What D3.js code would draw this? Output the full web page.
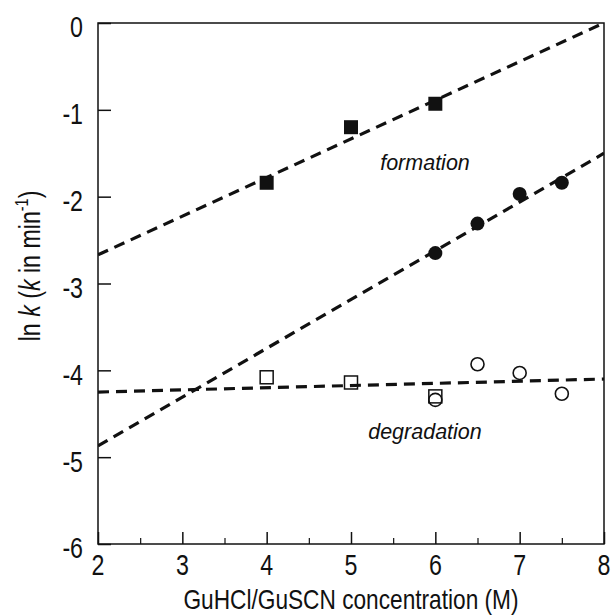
<!DOCTYPE html>
<html><head><meta charset="utf-8">
<script src="https://cdn.jsdelivr.net/npm/d3@7"></script>
<style>body{margin:0;background:#fff}svg text{font-family:"Liberation Sans",Arial,sans-serif;fill:#111}</style>
</head><body><svg id="c" width="613" height="615"></svg>
<script>
const xTicks=[2,3,4,5,6,7,8];
const xMinor=[2.5,3.5,4.5,5.5,6.5,7.5];
const yTicks=[0,-1,-2,-3,-4,-5,-6];
const formSqX=[4,5,6], formSqY=[-1.84,-1.20,-0.93];
const formCiX=[6,6.5,7,7.5], formCiY=[-2.65,-2.31,-1.97,-1.84];
const degSqX=[4,5,6], degSqY=[-4.08,-4.14,-4.30];
const degCiX=[6,6.5,7,7.5], degCiY=[-4.34,-3.93,-4.03,-4.27];
const fit1=[[2,-2.67],[8,0]];
const fit2=[[2,-4.87],[8,-1.50]];
const fit3=[[2,-4.25],[8,-4.10]];

const svg=d3.select("#c");
const L=98,R=604,T=23,B=544;
const x=d3.scaleLinear().domain([2,8]).range([L,R]);
const y=d3.scaleLinear().domain([-6,0]).range([B,T]);
const ink="#111";
const FS=29, SX=0.8;

svg.append("defs").append("clipPath").attr("id","clip").append("rect")
 .attr("x",L).attr("y",T).attr("width",R-L).attr("height",B-T);

// frame
svg.append("rect").attr("x",L).attr("y",T).attr("width",R-L).attr("height",B-T)
 .attr("fill","none").attr("stroke",ink).attr("stroke-width",1.5);

// y axis
const ya=svg.append("g").attr("transform",`translate(${L},0)`)
 .call(d3.axisRight(y).tickValues(yTicks).tickSize(13).tickFormat(""));
ya.select(".domain").remove();
ya.selectAll("line").attr("stroke",ink).attr("stroke-width",1.5);
svg.selectAll(".ylab").data(yTicks).enter().append("text")
 .attr("transform",d=>`translate(83,${y(d)+4}) scale(${SX},1)`)
 .attr("dy","0.36em").attr("text-anchor","end")
 .attr("font-size",FS).text(d=>d);

// x axis
const xa=svg.append("g").attr("transform",`translate(0,${B})`)
 .call(d3.axisTop(x).tickValues(xTicks).tickSize(12).tickFormat(""));
xa.select(".domain").remove();
xa.selectAll("line").attr("stroke",ink).attr("stroke-width",1.5);
const xm=svg.append("g").attr("transform",`translate(0,${B})`)
 .call(d3.axisTop(x).tickValues(xMinor).tickSize(6).tickFormat(""));
xm.select(".domain").remove();
xm.selectAll("line").attr("stroke",ink).attr("stroke-width",1.2);
svg.selectAll(".xlab").data(xTicks).enter().append("text")
 .attr("transform",d=>`translate(${x(d)},575) scale(${SX},1)`).attr("text-anchor","middle")
 .attr("font-size",FS).text(d=>d);

// titles
svg.append("text").attr("transform",`translate(${(L+R)/2},609) scale(0.81,1)`).attr("text-anchor","middle")
 .attr("font-size",FS-1).text("GuHCl/GuSCN concentration (M)");
const yt=svg.append("text").attr("transform",`translate(40,266) rotate(-90) scale(${SX},1)`)
 .attr("text-anchor","middle").attr("font-size",FS);
yt.append("tspan").text("ln ");
yt.append("tspan").attr("font-style","italic").text("k");
yt.append("tspan").text(" (");
yt.append("tspan").attr("font-style","italic").text("k");
yt.append("tspan").text(" in min");
yt.append("tspan").attr("font-size",18).attr("dy",-12).text("-1");
yt.append("tspan").attr("dy",12).text(")");

// fit lines
const line=d3.line().x(d=>x(d[0])).y(d=>y(d[1]));
const g=svg.append("g").attr("clip-path","url(#clip)");
[fit1,fit2,fit3].forEach(f=>{
 g.append("path").attr("d",line(f)).attr("fill","none").attr("stroke",ink)
  .attr("stroke-width",3.2).attr("stroke-dasharray","11,7");
});

// markers
const s=14;
svg.selectAll(".fs").data(formSqX).enter().append("rect")
 .attr("x",(d)=>x(d)-s/2).attr("y",(d,i)=>y(formSqY[i])-s/2).attr("width",s).attr("height",s).attr("fill",ink);
svg.selectAll(".fc").data(formCiX).enter().append("circle")
 .attr("cx",d=>x(d)).attr("cy",(d,i)=>y(formCiY[i])).attr("r",7).attr("fill",ink);
svg.selectAll(".ds").data(degSqX).enter().append("rect")
 .attr("x",(d)=>x(d)-6.5).attr("y",(d,i)=>y(degSqY[i])-6.5).attr("width",13).attr("height",13)
 .attr("fill","none").attr("stroke",ink).attr("stroke-width",1.5);
svg.selectAll(".dc").data(degCiX).enter().append("circle")
 .attr("cx",d=>x(d)).attr("cy",(d,i)=>y(degCiY[i])).attr("r",6.5)
 .attr("fill","none").attr("stroke",ink).attr("stroke-width",1.6);

// annotations
svg.append("text").attr("x",425).attr("y",170).attr("text-anchor","middle")
 .attr("font-size",21.5).attr("font-style","italic").text("formation");
svg.append("text").attr("x",425).attr("y",439).attr("text-anchor","middle")
 .attr("font-size",21.5).attr("font-style","italic").text("degradation");
</script></body></html>
